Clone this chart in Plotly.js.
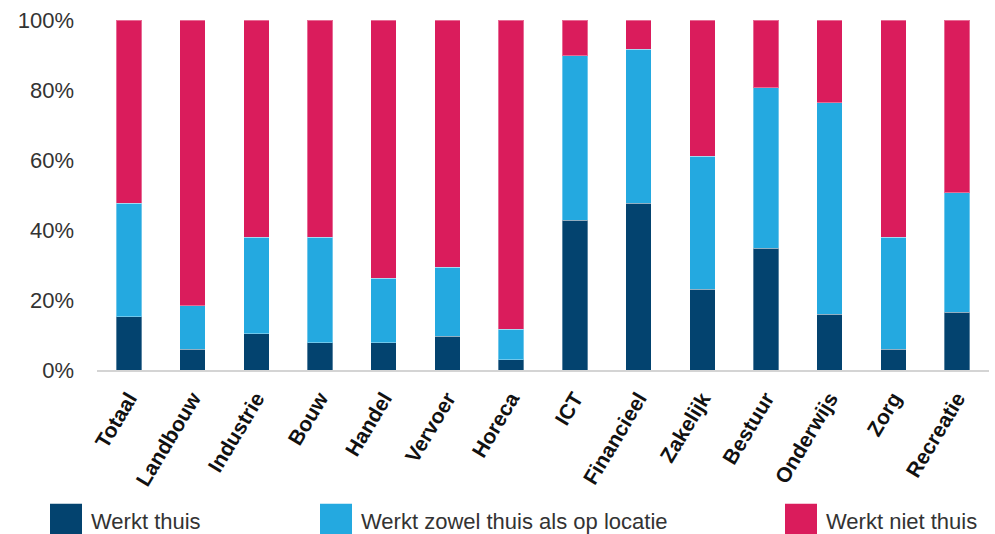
<!DOCTYPE html>
<html>
<head>
<meta charset="utf-8">
<script src="https://cdn.plot.ly/plotly-3.0.1.min.js"></script>
<style>html,body{margin:0;padding:0;background:#fff;}#chart{width:995px;height:534px;}</style>
</head>
<body>
<div id="chart"></div>
<script>
const categories = ["Totaal","Landbouw","Industrie","Bouw","Handel","Vervoer","Horeca","ICT","Financieel","Zakelijk","Bestuur","Onderwijs","Zorg","Recreatie"];
const werktThuis = [15.2, 6.0, 10.3, 7.8, 7.8, 9.6, 2.9, 42.8, 47.6, 23.1, 34.8, 15.9, 6.0, 16.5];
const werktZowel = [32.4, 12.3, 27.6, 30.1, 18.4, 19.7, 8.7, 47.0, 44.0, 38.0, 45.8, 60.4, 31.9, 34.2];
const werktNiet = [52.4, 81.7, 62.1, 62.1, 73.8, 70.7, 88.4, 10.2, 8.4, 38.9, 19.4, 23.7, 62.1, 49.3];
const seriesNames = ["Werkt thuis", "Werkt zowel thuis als op locatie", "Werkt niet thuis"];
const yTicks = [0, 20, 40, 60, 80, 100];

const colors = ["#03436F", "#24A9E0", "#DA1C5C"];
const seriesData = [werktThuis, werktZowel, werktNiet];

const traces = seriesData.map((vals, i) => ({
  type: "bar",
  name: seriesNames[i],
  x: categories,
  y: vals,
  marker: {color: colors[i], line: {color: "rgba(255,255,255,0.35)", width: 1}},
  showlegend: false,
  hoverinfo: "x+y+name"
}));

const L = 97, R = 989, T = 19.5, B = 370;
const W = R - L, H = B - T;
const px = v => (v - L) / W;
const py = v => (B - v) / H;

const legendX = [50, 320, 785];
const shapes = [];
const annotations = [];
legendX.forEach((x0, i) => {
  shapes.push({type: "rect", xref: "paper", yref: "paper",
    x0: px(x0), x1: px(x0 + 32), y0: py(504), y1: py(536),
    fillcolor: colors[i], line: {width: 0}});
  annotations.push({xref: "paper", yref: "paper", x: px(x0 + 39), y: py(522),
    xanchor: "left", yanchor: "middle", showarrow: false,
    text: seriesNames[i], font: {family: "Liberation Sans, Arial, sans-serif", size: 22, color: "#333333"}});
});

const layout = {
  width: 995, height: 534,
  margin: {l: L, r: 995 - R, t: T, b: 534 - B},
  paper_bgcolor: "#ffffff", plot_bgcolor: "#ffffff",
  barmode: "stack",
  bargap: 0.6,
  showlegend: false,
  font: {family: "Liberation Sans, Arial, sans-serif", color: "#333333"},
  xaxis: {
    type: "category",
    tickangle: -59,
    tickfont: {family: "Liberation Sans, Arial, sans-serif", size: 21, color: "#111111", weight: "bold"},
    showgrid: false, zeroline: false,
    showline: true, linecolor: "#d4d4d4", linewidth: 2,
    ticks: "", ticklabelstandoff: 6
  },
  yaxis: {
    range: [0, 100],
    tickvals: yTicks,
    ticktext: yTicks.map(v => v + "%"),
    tickfont: {family: "Liberation Sans, Arial, sans-serif", size: 22, color: "#333333"},
    showgrid: false, zeroline: false, showline: false,
    ticks: "", ticklabelstandoff: 22
  },
  shapes: shapes,
  annotations: annotations
};

Plotly.newPlot("chart", traces, layout, {displayModeBar: false, staticPlot: true});
</script>
</body>
</html>
